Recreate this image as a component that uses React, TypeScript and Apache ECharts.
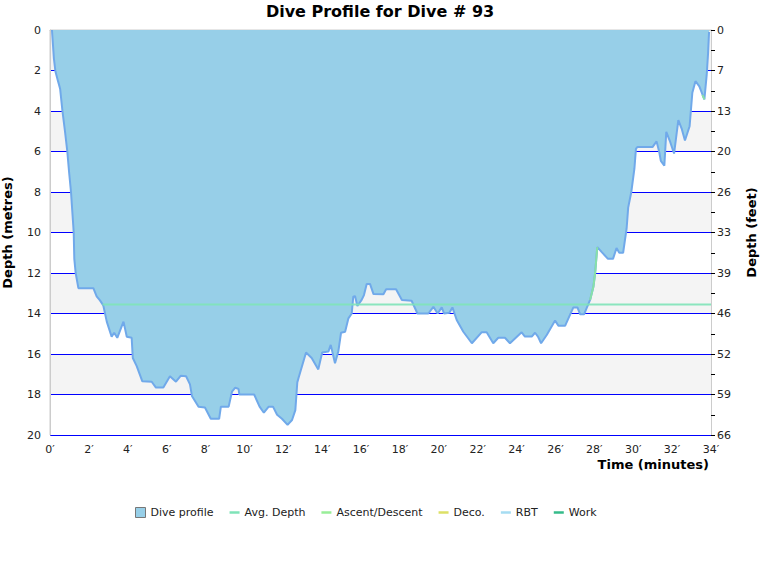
import { useEffect, useRef } from "react";
import * as echarts from "echarts";

const TITLE = "Dive Profile for Dive # 93";
const X_NAME = "Time (minutes)";

// Sampled dive profile: elapsed time (minutes) and depth (metres)
const timeMin = [
  0.1, 0.2, 0.28, 0.42, 0.52, 0.64, 0.77, 0.89, 0.98, 1.08, 1.15, 1.22, 1.25, 1.32, 1.46,
  2.23, 2.4, 2.57, 2.74, 2.92, 3.17, 3.3, 3.46, 3.78, 3.95, 4.2, 4.26, 4.46, 4.75, 5.23,
  5.45, 5.83, 6.17, 6.48, 6.72, 7.0, 7.2, 7.3, 7.64, 7.97, 8.27, 8.7, 8.79, 9.19, 9.36,
  9.53, 9.7, 9.74, 10.5, 10.78, 11.0, 11.25, 11.47, 11.68, 11.93, 12.22, 12.45, 12.62, 12.72, 12.78,
  13.17, 13.46, 13.8, 14.0, 14.32, 14.44, 14.66, 14.83, 14.97, 15.18, 15.35, 15.52, 15.6, 15.69, 15.81,
  16.03, 16.15, 16.29, 16.46, 16.64, 17.15, 17.29, 17.8, 18.1, 18.6, 18.9, 19.46, 19.72, 19.94, 20.15,
  20.27, 20.54, 20.7, 20.92, 21.26, 21.7, 22.2, 22.46, 22.8, 23.06, 23.4, 23.66, 24.26, 24.43, 24.78,
  24.95, 25.1, 25.26, 25.55, 25.98, 26.15, 26.5, 26.92, 27.13, 27.27, 27.47, 27.78, 27.95, 28.04, 28.15,
  28.37, 28.7, 28.96, 29.14, 29.28, 29.48, 29.66, 29.74, 29.9, 30.06, 30.14, 30.22, 30.99, 31.2, 31.34,
  31.42, 31.6, 31.7, 31.88, 32.1, 32.32, 32.5, 32.66, 32.9, 33.04, 33.2, 33.4, 33.66, 33.78, 33.85, 33.9,
];
const depthM = [
  0, 1.4, 2.05, 2.55, 2.9, 4.0, 5.0, 6.0, 7.0, 8.0, 9.0, 10.0, 11.3, 12.0, 12.75,
  12.75, 13.15, 13.35, 13.6, 14.4, 15.15, 14.95, 15.2, 14.4, 15.15, 15.2, 16.2, 16.6, 17.35, 17.37,
  17.66, 17.66, 17.1, 17.37, 17.08, 17.1, 17.5, 18.07, 18.6, 18.64, 19.2, 19.2, 18.6, 18.6, 17.86,
  17.66, 17.73, 18.0, 18.0, 18.6, 18.9, 18.6, 18.6, 19.0, 19.2, 19.5, 19.26, 18.77, 17.4, 17.2,
  15.93, 16.2, 16.76, 15.93, 15.88, 15.55, 16.46, 15.88, 14.95, 14.9, 14.24, 14.0, 13.17, 13.14, 13.63,
  13.33, 13.09, 12.54, 12.54, 13.04, 13.05, 12.8, 12.8, 13.33, 13.37, 14.0, 14.0, 13.67, 14.0, 13.7,
  14.0, 13.96, 13.7, 14.32, 14.9, 15.47, 14.93, 14.93, 15.47, 15.2, 15.2, 15.47, 14.93, 15.14, 15.14,
  14.95, 15.14, 15.47, 15.06, 14.35, 14.6, 14.6, 13.7, 13.7, 14.04, 14.04, 13.33, 12.68, 12.0, 10.72,
  10.96, 11.3, 11.3, 10.77, 11.0, 11.0, 9.8, 8.77, 8.0, 6.85, 5.86, 5.78, 5.78, 5.5, 6.04,
  6.46, 6.7, 5.03, 5.47, 6.1, 4.45, 4.9, 5.46, 4.75, 3.1, 2.53, 2.78, 3.43, 2.2, 1.14, 0.1,
];

// Fast ascent stretches, one array pair per stretch
const ascentTimeA = [27.78, 27.95, 28.04, 28.15];
const ascentDepthA = [13.33, 12.68, 12.0, 10.72];
const ascentTimeB = [33.56, 33.66];
const ascentDepthB = [3.2, 3.43];

const avgDepthM = 13.55;
const avgStartMin = 2.7;
const endMin = 34;

const legendNames = ["Dive profile", "Avg. Depth", "Ascent/Descent", "Deco.", "RBT", "Work"];
const seriesColors = ["#97cfe8", "#7fe3b8", "#99ee99", "#dde066", "#a6dcf2", "#35bb8a"];

const M_TO_FT = 3.28084;
const FONT = "DejaVu Sans, Verdana, sans-serif";
const LINE_ICON = "path://M0,0h12v3h-12z";

const pairs = (xs: number[], ys: number[]) => xs.map((x, i) => [x, ys[i]]);

export default function App() {
  const ref = useRef<HTMLDivElement>(null);

  useEffect(() => {
    if (!ref.current) return;
    const chart = echarts.init(ref.current, undefined, { renderer: "svg" });

    const avg = [
      [avgStartMin, avgDepthM],
      [endMin, avgDepthM],
    ];

    const depthAxisBase = {
      type: "value" as const,
      inverse: true,
      min: 0,
      max: 20,
      interval: 2,
      nameLocation: "middle" as const,
      nameRotate: 90,
      nameTextStyle: { fontFamily: FONT, fontSize: 13, fontWeight: "bold" as const, color: "#000" },
      axisLine: { show: true, lineStyle: { color: "#cccccc", width: 1 } },
    };

    const ascentSeries = (data: number[][]) => ({
      name: legendNames[2],
      type: "line" as const,
      data,
      showSymbol: false,
      itemStyle: { color: seriesColors[2] },
      lineStyle: { color: "#88e0a8", width: 2 },
      z: 3,
    });

    chart.setOption({
      animation: false,
      textStyle: { fontFamily: FONT },
      title: {
        text: TITLE,
        left: "center",
        top: -2,
        textStyle: { fontFamily: FONT, fontSize: 16, fontWeight: "bold", color: "#000" },
      },
      grid: {
        left: 50,
        right: 49,
        top: 30,
        bottom: 145,
        outerBoundsMode: "none",
        containLabel: false,
        show: true,
        borderColor: "#cccccc",
        borderWidth: 1,
        backgroundColor: "transparent",
      },
      legend: {
        left: 130,
        top: 502,
        itemWidth: 10,
        itemHeight: 10,
        itemGap: 16,
        textStyle: { fontFamily: FONT, fontSize: 11, color: "#222" },
        data: legendNames.map((name, i) =>
          i === 0
            ? {
                name,
                icon: "rect",
                itemStyle: { color: seriesColors[0], borderColor: "#777", borderWidth: 1 },
              }
            : { name, icon: LINE_ICON }
        ),
      },
      graphic: [
        {
          type: "text",
          right: 51,
          top: 458,
          style: {
            text: X_NAME,
            fill: "#000",
            font: `bold 13px ${FONT}`,
          },
        },
      ],
      xAxis: {
        type: "value",
        min: 0,
        max: endMin,
        interval: 2,
        axisLine: { lineStyle: { color: "#cccccc" } },
        axisTick: { show: false },
        splitLine: { show: false },
        axisLabel: {
          fontFamily: FONT,
          fontSize: 11,
          color: "#222",
          margin: 9,
          formatter: (v: number) => `${v}\u2032`,
        },
      },
      yAxis: [
        {
          ...depthAxisBase,
          position: "left",
          name: "Depth (metres)",
          nameGap: 36,
          axisTick: { show: false },
          axisLabel: { fontFamily: FONT, fontSize: 11, color: "#222", margin: 9 },
          splitLine: { show: true, lineStyle: { color: "#0000ff", width: 1 } },
          splitArea: { show: true, areaStyle: { color: ["#f4f4f4", "#ffffff"] } },
        },
        {
          ...depthAxisBase,
          position: "right",
          name: "Depth (feet)",
          nameGap: 34,
          axisTick: { show: true, length: 4, lineStyle: { color: "#000" } },
          minorTick: { show: true, splitNumber: 2, length: 4, lineStyle: { color: "#000" } },
          axisLabel: {
            fontFamily: FONT,
            fontSize: 11,
            color: "#222",
            margin: 6,
            formatter: (v: number) => String(Math.round(v * M_TO_FT)),
          },
          splitLine: { show: false },
          splitArea: { show: false },
        },
      ],
      series: [
        {
          name: legendNames[0],
          type: "line",
          data: pairs(timeMin, depthM),
          showSymbol: false,
          itemStyle: { color: seriesColors[0] },
          lineStyle: { color: "#70a9ea", width: 2 },
          areaStyle: { color: seriesColors[0], opacity: 1 },
          z: 2,
        },
        {
          name: legendNames[1],
          type: "line",
          data: avg,
          showSymbol: false,
          itemStyle: { color: seriesColors[1] },
          lineStyle: { color: seriesColors[1], width: 2, opacity: 0.9 },
          z: 4,
        },
        ascentSeries(pairs(ascentTimeA, ascentDepthA)),
        ascentSeries(pairs(ascentTimeB, ascentDepthB)),
        { name: legendNames[3], type: "line", data: [], itemStyle: { color: seriesColors[3] } },
        { name: legendNames[4], type: "line", data: [], itemStyle: { color: seriesColors[4] } },
        { name: legendNames[5], type: "line", data: [], itemStyle: { color: seriesColors[5] } },
      ],
    });

    return () => chart.dispose();
  }, []);

  return (
    <div
      ref={ref}
      style={{ position: "fixed", left: 0, top: 0, width: 760, height: 580, background: "#fff" }}
    />
  );
}
